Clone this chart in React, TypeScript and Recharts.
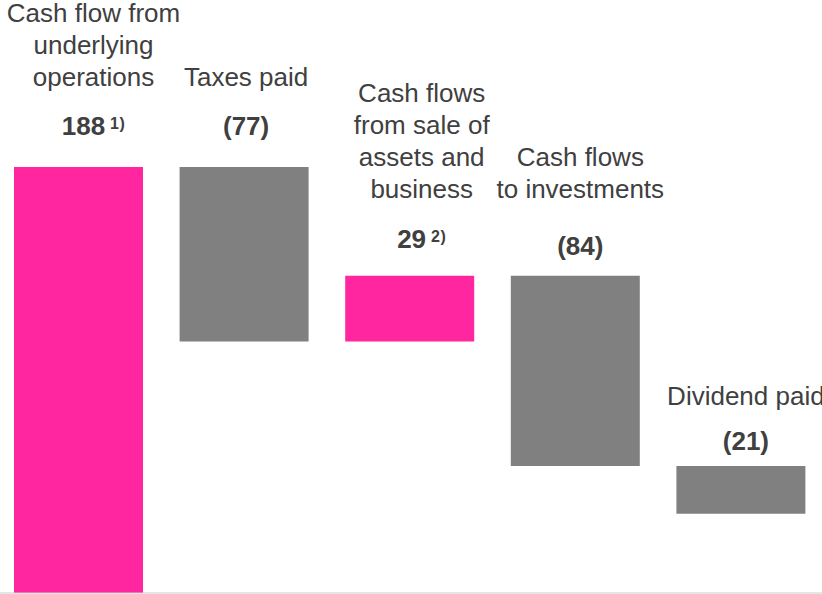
import { BarChart, Bar, XAxis, YAxis, ReferenceLine, LabelList, Cell } from 'recharts';

const CATEGORIES = [
  'Cash flow from underlying operations',
  'Taxes paid',
  'Cash flows from sale of assets and business',
  'Cash flows to investments',
  'Dividend paid',
];
const TITLE_LINES = [
  ['Cash flow from', 'underlying', 'operations'],
  ['Taxes paid'],
  ['Cash flows', 'from sale of', 'assets and', 'business'],
  ['Cash flows', 'to investments'],
  ['Dividend paid'],
];
const CHANGES = [188, -77, 29, -84, -21];
const VALUE_TEXT = ['188', '(77)', '29', '(84)', '(21)'];
const FOOTNOTES = ['1)', '', '2)', '', ''];

const PINK = '#ff26a0';
const GRAY = '#808080';
const TEXT = '#404040';
const FONT = '"Liberation Sans", Arial, Helvetica, sans-serif';

// hand placement of each label block (matches the slide)
const LABEL_DX = [15, 2, 12, 5, 5];
const VALUE_GAP = [32, 32, 28, 21, 16];
const TITLE_GAP = [49, 49, 50, 57, 45];
const LINE_H = 32;

let running = 0;
const data = CATEGORIES.map((name, i) => {
  const start = running;
  running += CHANGES[i];
  return {
    name,
    range: [Math.min(start, running), Math.max(start, running)],
    up: CHANGES[i] >= 0,
  };
});

function StepLabel(props: any) {
  const vb = props.viewBox ?? props;
  const index = props.index;
  const x = Number(vb.x);
  const y = Number(vb.y);
  const w = Number(vb.width);
  const h = Number(vb.height);
  const cx = x + w / 2 + LABEL_DX[index];
  const top = Math.min(y, y + h);
  const valueY = top - VALUE_GAP[index];
  const lines = TITLE_LINES[index];
  const lastY = valueY - TITLE_GAP[index];
  return (
    <g fontFamily={FONT} fill={TEXT} textAnchor="middle">
      {lines.map((line, k) => (
        <text key={k} x={cx} y={lastY - (lines.length - 1 - k) * LINE_H} fontSize={26}>
          {line}
        </text>
      ))}
      <text x={cx} y={valueY} fontSize={26} fontWeight="bold">
        {VALUE_TEXT[index]}
        {FOOTNOTES[index] ? (
          <tspan fontSize={16} dy={-6} letterSpacing={0.5}>
            {' ' + FOOTNOTES[index]}
          </tspan>
        ) : null}
      </text>
    </g>
  );
}

export default function App() {
  return (
    <div
      style={{
        position: 'absolute',
        left: 0,
        top: 0,
        width: 822,
        height: 594,
        overflow: 'hidden',
        background: '#fff',
      }}
    >
      <div style={{ marginLeft: -4 }}>
        <BarChart width={828} height={594} data={data} margin={{ top: 167, right: 0, bottom: 1, left: 0 }}>
          <XAxis dataKey="name" hide />
          <YAxis hide domain={[0, 188]} />
          <Bar dataKey="range" barSize={129} isAnimationActive={false}>
            {data.map((d, i) => (
              <Cell key={i} fill={d.up ? PINK : GRAY} />
            ))}
            <LabelList dataKey="range" content={StepLabel} />
          </Bar>
          <ReferenceLine y={0} stroke="#cccccc" strokeWidth={1} />
        </BarChart>
      </div>
    </div>
  );
}
